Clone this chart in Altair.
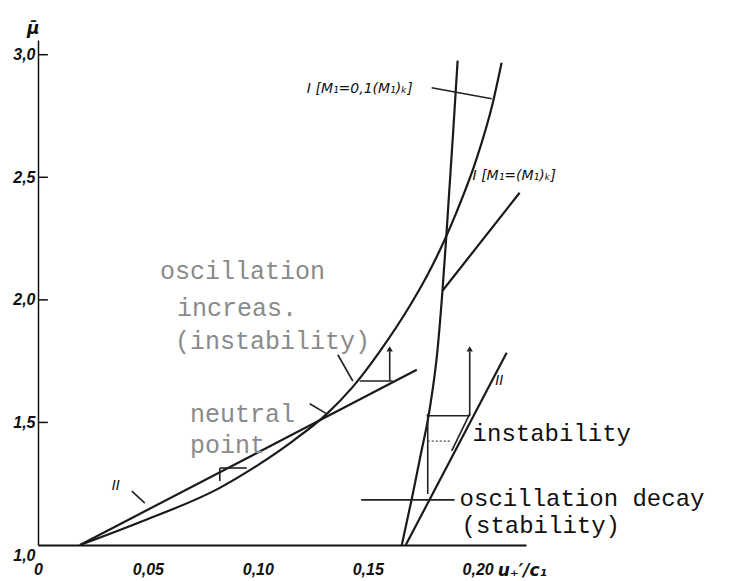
import altair as alt
import pandas as pd

# ---- data ----
main_x = [0.0191, 0.0477, 0.0827, 0.1009, 0.1159, 0.1314, 0.1432, 0.1555, 0.1691, 0.1768, 0.1850, 0.1905, 0.1995, 0.2068, 0.2109]
main_y = [1.000, 1.098, 1.233, 1.331, 1.424, 1.535, 1.645, 1.790, 1.975, 2.095, 2.245, 2.360, 2.575, 2.800, 2.967]

steep_x = [0.1655, 0.1705, 0.1738, 0.1782, 0.1817, 0.1840, 0.1857, 0.1868, 0.1889, 0.1909]
steep_y = [1.000, 1.208, 1.355, 1.555, 1.792, 2.037, 2.253, 2.404, 2.690, 2.976]

crit_x = [0.1840, 0.2191]
crit_y = [2.037, 2.437]

two_left_x = [0.0191, 0.1723]
two_left_y = [1.000, 1.715]

two_right_x = [0.1673, 0.2132]
two_right_y = [1.000, 1.784]

y_ticks = [1.0, 1.5, 2.0, 2.5, 3.0]
x_ticks = [0.0, 0.05, 0.10, 0.15, 0.20]

# annotation segments: x, y, x2, y2
seg_x1 = [0.1791, 0.1470, 0.1768, 0.1964, 0.1464, 0.1600, 0.1882, 0.0427, 0.1364, 0.1236, 0.0827, 0.0827, 0.1773]
seg_y1 = [2.865, 1.184, 1.527, 1.527, 1.669, 1.669, 1.384, 1.220, 1.776, 1.576, 1.314, 1.314, 1.535]
seg_x2 = [0.2064, 0.1895, 0.1964, 0.1964, 0.1614, 0.1600, 0.1964, 0.0486, 0.1432, 0.1314, 0.0950, 0.0827, 0.1773]
seg_y2 = [2.820, 1.184, 1.527, 1.790, 1.669, 1.790, 1.535, 1.171, 1.669, 1.535, 1.314, 1.261, 1.208]

arrow_x = [0.1964, 0.1600]
arrow_y = [1.800, 1.800]

dot_x1 = [0.1773]
dot_x2 = [0.1882]
dot_y = [1.424]

# texts
mono_texts = ["instability", "oscillation decay", "(stability)"]
mono_x = [0.1977, 0.1918, 0.1927]
mono_y = [1.453, 1.188, 1.078]

faded_texts = ["oscillation", "increas.", "(instability)", "neutral", "point"]
faded_x = [0.0555, 0.0632, 0.0623, 0.0691, 0.0691]
faded_y = [2.118, 1.967, 1.833, 1.535, 1.408]

curve_labels = ["I [M₁=0,1(M₁)ₖ]", "I [M₁=(M₁)ₖ]", "II", "II"]
curve_lab_x = [0.1223, 0.1977, 0.0335, 0.2080]
curve_lab_y = [2.861, 2.506, 1.241, 1.669]

axis_titles = ["μ̄", "u₊′/c₁"]
axis_title_x = [-0.0050, 0.2091]
axis_title_y = [3.106, 0.894]

# ---- tables ----
rows = []
for name, xs_, ys_ in [("I01", main_x, main_y), ("steep", steep_x, steep_y), ("Icrit", crit_x, crit_y),
                       ("IIa", two_left_x, two_left_y), ("IIb", two_right_x, two_right_y)]:
    for a, b in zip(xs_, ys_):
        rows.append({"series": name, "x": a, "y": b})
curves = pd.DataFrame(rows)

segs = pd.DataFrame({"x": seg_x1, "y": seg_y1, "x2": seg_x2, "y2": seg_y2})
arrows = pd.DataFrame({"x": arrow_x, "y": arrow_y})
dots = pd.DataFrame({"x": dot_x1, "x2": dot_x2, "y": dot_y})
ticks_df = pd.DataFrame({"y": y_ticks[1:], "x": [0.0] * 4, "x2": [0.0045] * 4})
mono_df = pd.DataFrame({"t": mono_texts, "x": mono_x, "y": mono_y})
faded_df = pd.DataFrame({"t": faded_texts, "x": faded_x, "y": faded_y})
lab_df = pd.DataFrame({"t": curve_labels, "x": curve_lab_x, "y": curve_lab_y})
title_df = pd.DataFrame({"t": axis_titles, "x": axis_title_x, "y": axis_title_y})

xs = alt.Scale(domain=[0, 0.222], nice=False, zero=False)
ys = alt.Scale(domain=[1.0, 3.06], nice=False, zero=False)

X = alt.X("x:Q", scale=xs, axis=alt.Axis(
    values=x_ticks, title=None, grid=False, ticks=False, labelPadding=16,
    labelExpr="datum.value == 0 ? '0' : replace(format(datum.value, '.2f'), '.', ',')",
    labelFont="Liberation Sans Narrow, Liberation Sans", labelFontStyle="italic", labelFontWeight="bold",
    labelFontSize=16, labelColor="#111", domainColor="#111", domainWidth=2, labelFlush=False))
Y = alt.Y("y:Q", scale=ys, axis=alt.Axis(
    values=y_ticks, title=None, grid=False, ticks=False, labelPadding=3,
    labelExpr="replace(format(datum.value, '.1f'), '.', ',')",
    labelOffset={"condition": {"test": "datum.value == 1", "value": 10}, "value": 0},
    labelFont="Liberation Sans Narrow, Liberation Sans", labelFontStyle="italic", labelFontWeight="bold",
    labelFontSize=16, labelColor="#111", domainColor="#111", domainWidth=1.5))

base_lines = alt.Chart(curves).mark_line(color="#1a1a1a", strokeWidth=2.2, interpolate="monotone").encode(
    x=X, y=Y, detail="series:N")

seg_layer = alt.Chart(segs).mark_rule(color="#222", strokeWidth=1.6).encode(
    x="x:Q", y="y:Q", x2="x2:Q", y2="y2:Q")

arrow_layer = alt.Chart(arrows).mark_point(shape="triangle-up", filled=True, size=40, color="#222", opacity=1).encode(
    x="x:Q", y="y:Q")

dot_layer = alt.Chart(dots).mark_rule(color="#444", strokeWidth=1.2, strokeDash=[2, 2]).encode(
    x="x:Q", x2="x2:Q", y="y:Q")

tick_layer = alt.Chart(ticks_df).mark_rule(color="#111", strokeWidth=1.5).encode(
    x="x:Q", x2="x2:Q", y="y:Q")

mono_layer = alt.Chart(mono_df).mark_text(align="left", baseline="middle", font="Liberation Mono",
                                          fontSize=24, color="#111").encode(x="x:Q", y="y:Q", text="t:N")

faded_layer = alt.Chart(faded_df).mark_text(align="left", baseline="middle", font="Liberation Mono",
                                            fontSize=25, color="#8a8a8a").encode(x="x:Q", y="y:Q", text="t:N")

lab_layer = alt.Chart(lab_df).mark_text(align="left", baseline="middle", font="DejaVu Sans",
                                        fontStyle="italic", fontSize=14, color="#111").encode(
    x="x:Q", y="y:Q", text="t:N")

title_layer = alt.Chart(title_df).mark_text(align="left", baseline="middle", font="DejaVu Sans",
                                            fontStyle="italic", fontWeight="bold", fontSize=17, color="#111").encode(
    x="x:Q", y="y:Q", text="t:N")

chart = alt.layer(base_lines, seg_layer, arrow_layer, dot_layer, tick_layer, mono_layer, faded_layer,
                  lab_layer, title_layer).properties(
    width=488, height=505,
    padding={"left": 30, "top": 32, "right": 200, "bottom": 36},
    autosize=alt.AutoSizeParams(type="none"),
).configure(background="white", view=alt.ViewConfig(stroke=None))

chart.save("out.html", embed_options={"renderer": "svg", "actions": False})
